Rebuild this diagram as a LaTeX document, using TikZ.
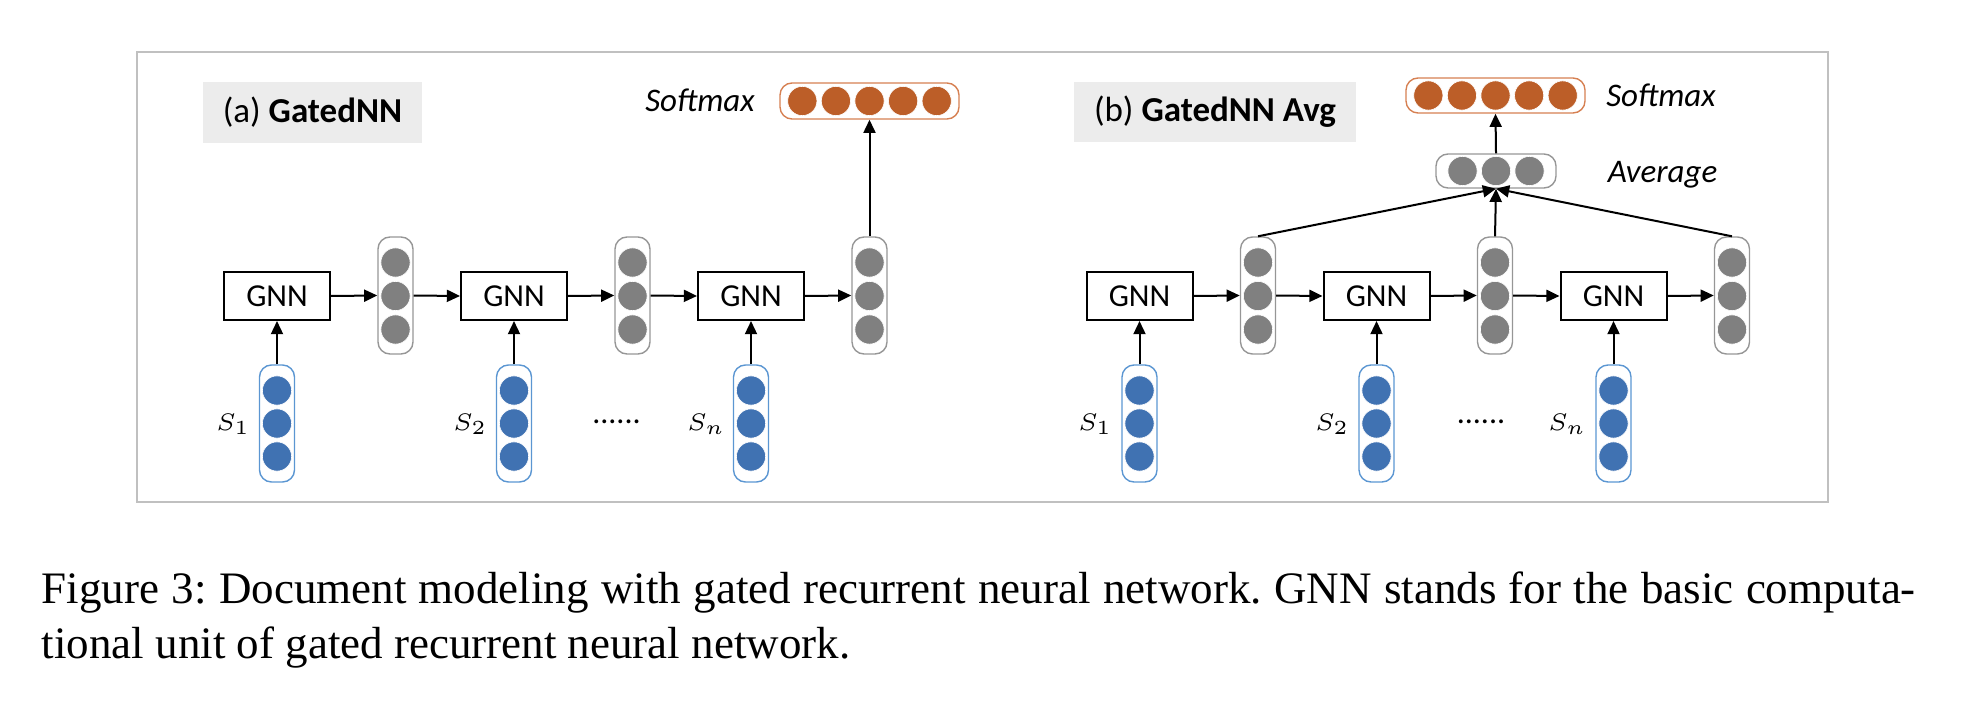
\documentclass[tikz,border=0pt]{standalone}
\usepackage{fontspec}
\setmainfont{Liberation Serif}
\newfontfamily\calibri{Carlito}
\usetikzlibrary{arrows.meta}
\definecolor{myorange}{RGB}{188,94,40}
\definecolor{myorangeb}{RGB}{214,128,82}
\definecolor{myblue}{RGB}{64,114,178}
\definecolor{mybluel}{RGB}{91,150,210}
\definecolor{mygray}{RGB}{128,128,128}
\definecolor{mygrayb}{RGB}{150,150,150}
\definecolor{labelbg}{RGB}{236,236,236}
\definecolor{framec}{RGB}{192,192,192}
\tikzset{
  gnnbox/.style={draw, line width=0.5pt, minimum width=26.5pt, minimum height=12pt, inner sep=0pt, font=\calibri\fontsize{8}{9.6}\selectfont},
  vvec/.style={draw, rounded corners=3pt, minimum width=8.75pt, minimum height=29.25pt, inner sep=0pt, line width=0.35pt},
  hvec/.style={draw, rounded corners=3pt, minimum height=8.75pt, inner sep=0pt, line width=0.35pt},
  dotc/.style={circle, draw=white, line width=0.15pt, minimum size=7.3pt, inner sep=0pt},
  arr/.style={-{Triangle[length=3.3pt,width=3pt]}, line width=0.5pt},
  lbl/.style={fill=labelbg, inner sep=0pt, font=\calibri\fontsize{8.75}{10}\selectfont},
  itl/.style={font=\calibri\itshape\fontsize{8.25}{10}\selectfont, inner sep=0pt, anchor=base},
  slbl/.style={font=\fontsize{6.5}{7}\selectfont, inner sep=0pt, anchor=base east},
  dotsl/.style={font=\calibri\fontsize{8}{9.6}\selectfont, inner sep=0pt, anchor=base},
  capt/.style={font=\fontsize{11.25}{13.5}\selectfont\frenchspacing, inner sep=0pt, anchor=base west}
}
\begin{document}
\begin{tikzpicture}[x=0.25pt,y=-0.25pt]
\useasboundingbox (0,0) rectangle (1968,706);
% frame
\draw[framec, line width=0.5pt] (137,52) rectangle (1828,502);
% labels
\node[lbl, minimum width=54.75pt, minimum height=15.25pt] (labA) at (312.5,112.5) {(a) \textbf{GatedNN}};
\node[lbl, minimum width=70.5pt, minimum height=15pt] (labB) at (1215,112) {(b) \textbf{GatedNN Avg}};
% GNN boxes
\foreach \n/\cx in {ga1/277, ga2/514, ga3/751, gb1/1139.5, gb2/1376.5, gb3/1613.5}
  \node[gnnbox] (\n) at (\cx,296) {GNN};
% gray hidden vectors
\foreach \n/\cx in {ha1/395.5, ha2/632.5, ha3/869.5, hb1/1258, hb2/1495, hb3/1732}{
  \node[vvec, draw=mygrayb] (\n) at (\cx,295.5) {};
  \foreach \k/\y in {1/262.5, 2/296, 3/329.5}
    \node[dotc, fill=mygray] (\n-\k) at (\cx,\y) {};
}
% blue input vectors
\foreach \n/\cx in {sa1/277, sa2/514, sa3/751, sb1/1139.5, sb2/1376.5, sb3/1613.5}{
  \node[vvec, draw=mybluel] (\n) at (\cx,423.5) {};
  \foreach \k/\y in {1/390.5, 2/423.5, 3/456.5}
    \node[dotc, fill=myblue] (\n-\k) at (\cx,\y) {};
}
% S labels
\node[slbl] (la1) at (251,430) {$S_1$};
\node[slbl] (la2) at (488,430) {$S_2$};
\node[slbl] (la3) at (726,430) {$S_n$};
\node[slbl] (lb1) at (1113,430) {$S_1$};
\node[slbl] (lb2) at (1350,430) {$S_2$};
\node[slbl] (lb3) at (1587,430) {$S_n$};
\node[dotsl] (dA) at (616.5,423) {......};
\node[dotsl] (dB) at (1481,423) {......};
% softmax (a)
\node[hvec, draw=myorangeb, minimum width=44.75pt, minimum height=9pt] (smA) at (869.5,101) {};
\foreach \k/\dx in {1/-67.2, 2/-33.6, 3/0, 4/33.6, 5/67.2}
  \node[dotc, fill=myorange] (smA-\k) at (869.5+\dx,101) {};
\node[itl] (tsA) at (700,112) {Softmax};
% softmax (b)
\node[hvec, draw=myorangeb, minimum width=44.75pt, minimum height=8.75pt] (smB) at (1495.5,95.5) {};
\foreach \k/\dx in {1/-67.2, 2/-33.6, 3/0, 4/33.6, 5/67.2}
  \node[dotc, fill=myorange] (smB-\k) at (1495.5+\dx,95.5) {};
\node[itl] (tsB) at (1661,107) {Softmax};
% average
\node[hvec, draw=mygrayb, minimum width=30pt, minimum height=8.5pt] (avg) at (1496,171) {};
\foreach \k/\dx in {1/-33.5, 2/0, 3/33.5}
  \node[dotc, fill=mygray] (avg-\k) at (1496+\dx,171) {};
\node[itl] (tav) at (1662.5,182) {Average};
% connectors (a)
\draw[arr] (sa1.north) -- (ga1.south);
\draw[arr] (sa2.north) -- (ga2.south);
\draw[arr] (sa3.north) -- (ga3.south);
\draw[arr] (ga1.east) -- (ha1.west);
\draw[arr] (ha1.east) -- (ga2.west);
\draw[arr] (ga2.east) -- (ha2.west);
\draw[arr] (ha2.east) -- (ga3.west);
\draw[arr] (ga3.east) -- (ha3.west);
\draw[arr] (ha3.north) -- (smA.south);
% connectors (b)
\draw[arr] (sb1.north) -- (gb1.south);
\draw[arr] (sb2.north) -- (gb2.south);
\draw[arr] (sb3.north) -- (gb3.south);
\draw[arr] (gb1.east) -- (hb1.west);
\draw[arr] (hb1.east) -- (gb2.west);
\draw[arr] (gb2.east) -- (hb2.west);
\draw[arr] (hb2.east) -- (gb3.west);
\draw[arr] (gb3.east) -- (hb3.west);
\draw[arr] (hb1.north) -- (avg.south);
\draw[arr] (hb2.north) -- (avg.south);
\draw[arr] (hb3.north) -- (avg.south);
\draw[arr] (avg.north) -- (smB.south);
% caption
\node[capt] (cap1) at (41,603) {\makebox[468.5pt][s]{Figure 3: Document modeling with gated recurrent neural network. GNN stands for the basic computa-}};
\node[capt] (cap2) at (41,658) {tional unit of gated recurrent neural network.};
\end{tikzpicture}
\end{document}
